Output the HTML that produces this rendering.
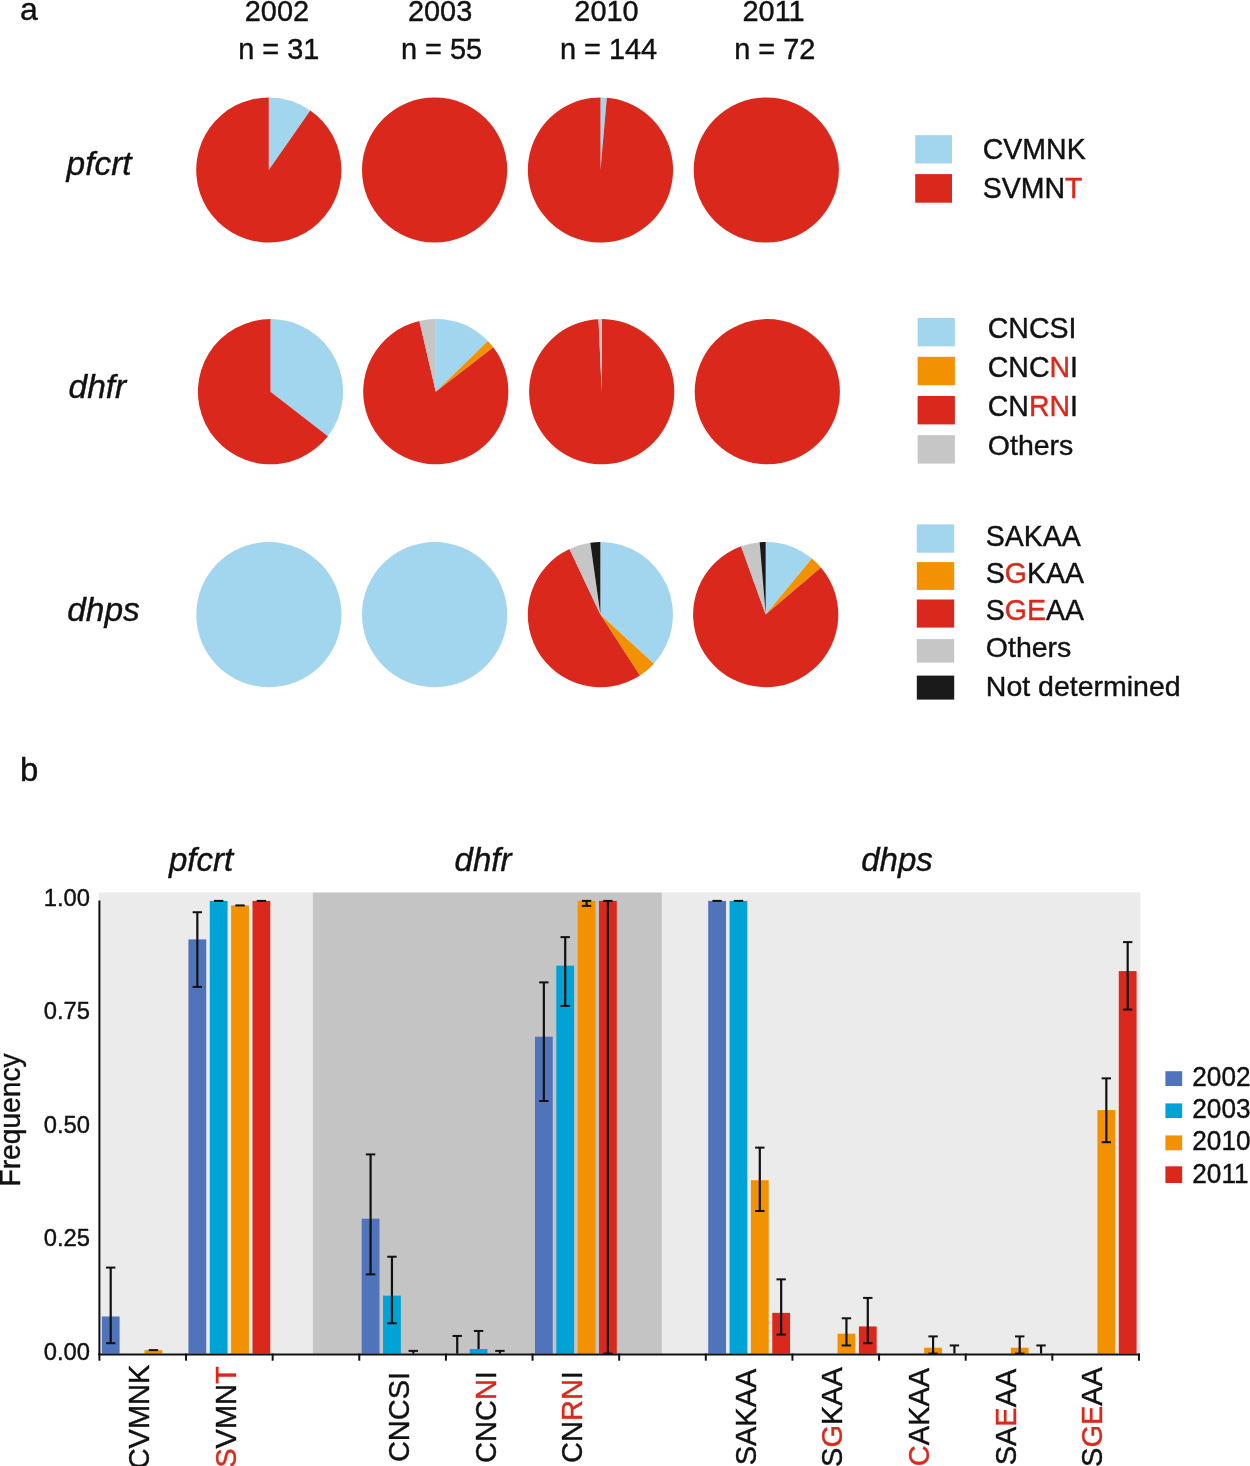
<!DOCTYPE html>
<html><head><meta charset="utf-8"><style>
html,body{margin:0;padding:0;background:#fff;}
body{width:1250px;height:1466px;overflow:hidden;}
svg{display:block;font-family:"Liberation Sans",sans-serif;will-change:transform;color:#111;}
text{stroke:currentColor;stroke-width:0.4px;} tspan{stroke:currentColor;}
</style></head><body>
<svg width="1250" height="1466" viewBox="0 0 1250 1466" font-family="Liberation Sans, sans-serif">
<path d="M268.80,170.00 L268.80,97.40 A72.6,72.6 0 0 1 310.27,110.41 Z" fill="#a2d5ee"/>
<path d="M268.80,170.00 L310.27,110.41 A72.6,72.6 0 1 1 268.80,97.40 Z" fill="#da291c"/>
<circle cx="434.6" cy="170.0" r="72.6" fill="#da291c"/>
<path d="M600.50,170.00 L600.50,97.40 A72.6,72.6 0 0 1 606.83,97.68 Z" fill="#a2d5ee"/>
<path d="M600.50,170.00 L606.83,97.68 A72.6,72.6 0 1 1 600.50,97.40 Z" fill="#da291c"/>
<circle cx="766.3" cy="170.0" r="72.6" fill="#da291c"/>
<path d="M270.50,391.70 L270.50,319.10 A72.6,72.6 0 0 1 327.91,436.14 Z" fill="#a2d5ee"/>
<path d="M270.50,391.70 L327.91,436.14 A72.6,72.6 0 1 1 270.50,319.10 Z" fill="#da291c"/>
<path d="M435.80,391.70 L435.80,319.10 A72.6,72.6 0 0 1 487.86,341.10 Z" fill="#a2d5ee"/>
<path d="M435.80,391.70 L487.86,341.10 A72.6,72.6 0 0 1 493.29,347.37 Z" fill="#f39200"/>
<path d="M435.80,391.70 L493.29,347.37 A72.6,72.6 0 1 1 419.36,320.99 Z" fill="#da291c"/>
<path d="M435.80,391.70 L419.36,320.99 A72.6,72.6 0 0 1 435.80,319.10 Z" fill="#c6c6c6"/>
<path d="M601.70,391.70 L601.70,319.10 A72.6,72.6 0 1 1 598.53,319.17 Z" fill="#da291c"/>
<path d="M601.70,391.70 L598.53,319.17 A72.6,72.6 0 0 1 601.70,319.10 Z" fill="#c6c6c6"/>
<circle cx="767.3" cy="391.7" r="72.6" fill="#da291c"/>
<circle cx="268.9" cy="614.6" r="72.6" fill="#a2d5ee"/>
<circle cx="434.6" cy="614.6" r="72.6" fill="#a2d5ee"/>
<path d="M600.40,614.60 L600.40,542.00 A72.6,72.6 0 0 1 653.93,663.65 Z" fill="#a2d5ee"/>
<path d="M600.40,614.60 L653.93,663.65 A72.6,72.6 0 0 1 639.94,675.49 Z" fill="#f39200"/>
<path d="M600.40,614.60 L639.94,675.49 A72.6,72.6 0 1 1 569.49,548.91 Z" fill="#da291c"/>
<path d="M600.40,614.60 L569.49,548.91 A72.6,72.6 0 0 1 590.30,542.71 Z" fill="#c6c6c6"/>
<path d="M600.40,614.60 L590.30,542.71 A72.6,72.6 0 0 1 600.40,542.00 Z" fill="#1a1a1a"/>
<path d="M765.70,614.60 L765.70,542.00 A72.6,72.6 0 0 1 811.88,558.58 Z" fill="#a2d5ee"/>
<path d="M765.70,614.60 L811.88,558.58 A72.6,72.6 0 0 1 820.91,567.45 Z" fill="#f39200"/>
<path d="M765.70,614.60 L820.91,567.45 A72.6,72.6 0 1 1 741.11,546.29 Z" fill="#da291c"/>
<path d="M765.70,614.60 L741.11,546.29 A72.6,72.6 0 0 1 759.62,542.25 Z" fill="#c6c6c6"/>
<path d="M765.70,614.60 L759.62,542.25 A72.6,72.6 0 0 1 765.70,542.00 Z" fill="#1a1a1a"/>
<text x="19.9" y="20.3" font-size="32" text-anchor="start" fill="#111111" >a</text>
<text x="19.9" y="780.7" font-size="33" text-anchor="start" fill="#111111" >b</text>
<text x="0" y="0" font-size="28.9" text-anchor="middle" fill="#111111" transform="translate(276.90,20.70) scale(1,1.03)" >2002</text>
<text x="0" y="0" font-size="28.9" text-anchor="middle" fill="#111111" transform="translate(278.80,59.00) scale(1,1.03)" >n = 31</text>
<text x="0" y="0" font-size="28.9" text-anchor="middle" fill="#111111" transform="translate(440.10,20.70) scale(1,1.03)" >2003</text>
<text x="0" y="0" font-size="28.9" text-anchor="middle" fill="#111111" transform="translate(441.50,59.00) scale(1,1.03)" >n = 55</text>
<text x="0" y="0" font-size="28.9" text-anchor="middle" fill="#111111" transform="translate(606.50,20.70) scale(1,1.03)" >2010</text>
<text x="0" y="0" font-size="28.9" text-anchor="middle" fill="#111111" transform="translate(608.50,59.00) scale(1,1.03)" >n = 144</text>
<text x="0" y="0" font-size="28.9" text-anchor="middle" fill="#111111" transform="translate(773.60,20.70) scale(1,1.03)" >2011</text>
<text x="0" y="0" font-size="28.9" text-anchor="middle" fill="#111111" transform="translate(774.80,59.00) scale(1,1.03)" >n = 72</text>
<text x="66.5" y="174.6" font-size="33.5" text-anchor="start" font-style="italic" fill="#111111" >pfcrt</text>
<text x="68.5" y="398.4" font-size="33.5" text-anchor="start" font-style="italic" fill="#111111" >dhfr</text>
<text x="67.2" y="621.4" font-size="33.5" text-anchor="start" font-style="italic" fill="#111111" >dhps</text>
<rect x="915.2" y="135.2" width="36.8" height="28.3" fill="#a2d5ee"/>
<rect x="915.2" y="174.1" width="36.8" height="28.6" fill="#da291c"/>
<text x="0" y="0" font-size="28.5" text-anchor="start" fill="#111111" transform="translate(982.80,158.70) scale(1,1.04)" >CVMNK</text>
<text x="0" y="0" font-size="28.5" text-anchor="start" fill="#111111" transform="translate(982.80,198.00) scale(1,1.04)" >SVMN<tspan fill="#da291c" style="color:#da291c">T</tspan></text>
<rect x="917.6" y="317.9" width="37.3" height="28.4" fill="#a2d5ee"/>
<rect x="917.6" y="356.8" width="37.3" height="28.4" fill="#f39200"/>
<rect x="917.6" y="396" width="37.3" height="28.4" fill="#da291c"/>
<rect x="917.6" y="435.2" width="37.3" height="28.4" fill="#c6c6c6"/>
<text x="0" y="0" font-size="28.5" text-anchor="start" fill="#111111" transform="translate(987.80,338.40) scale(1,1.04)" >CNCSI</text>
<text x="0" y="0" font-size="28.5" text-anchor="start" fill="#111111" transform="translate(987.80,377.30) scale(1,1.04)" >CNC<tspan fill="#da291c" style="color:#da291c">N</tspan>I</text>
<text x="0" y="0" font-size="28.5" text-anchor="start" fill="#111111" transform="translate(987.80,416.30) scale(1,1.04)" >CN<tspan fill="#da291c" style="color:#da291c">RN</tspan>I</text>
<text x="987.8" y="455.2" font-size="28.5" text-anchor="start" fill="#111111" >Others</text>
<rect x="916.8" y="524.4" width="37.4" height="28.3" fill="#a2d5ee"/>
<rect x="916.8" y="562.1" width="37.4" height="27.8" fill="#f39200"/>
<rect x="916.8" y="599.5" width="37.4" height="28.1" fill="#da291c"/>
<rect x="916.8" y="639.1" width="37.4" height="23.5" fill="#c6c6c6"/>
<rect x="916.8" y="675.6" width="37.4" height="24" fill="#1a1a1a"/>
<text x="0" y="0" font-size="28.5" text-anchor="start" fill="#111111" transform="translate(985.80,545.50) scale(1,1.04)" >SAKAA</text>
<text x="0" y="0" font-size="28.5" text-anchor="start" fill="#111111" transform="translate(985.80,582.50) scale(1,1.04)" >S<tspan fill="#da291c" style="color:#da291c">G</tspan>KAA</text>
<text x="0" y="0" font-size="28.5" text-anchor="start" fill="#111111" transform="translate(985.80,620.40) scale(1,1.04)" >S<tspan fill="#da291c" style="color:#da291c">GE</tspan>AA</text>
<text x="985.8" y="656.9" font-size="28.5" text-anchor="start" fill="#111111" >Others</text>
<text x="985.8" y="695.5" font-size="28.5" text-anchor="start" fill="#111111" >Not determined</text>
<rect x="98.7" y="892.5" width="214.1" height="461.0999999999999" fill="#ebebeb"/>
<rect x="312.8" y="892.5" width="349.1" height="461.0999999999999" fill="#c4c4c4"/>
<rect x="661.9" y="892.5" width="478.4" height="461.0999999999999" fill="#ebebeb"/>
<rect x="101.8" y="1316.48" width="17.8" height="37.12" fill="#4f74bb"/>
<rect x="144.5" y="1350.11" width="17.8" height="3.49" fill="#f39200"/>
<rect x="188.43" y="939.38" width="17.8" height="414.22" fill="#4f74bb"/>
<rect x="209.78" y="900.9" width="17.8" height="452.7" fill="#00a3d6"/>
<rect x="231.13" y="905.43" width="17.8" height="448.17" fill="#f39200"/>
<rect x="252.48" y="900.9" width="17.8" height="452.7" fill="#da291c"/>
<rect x="361.69" y="1218.7" width="17.8" height="134.9" fill="#4f74bb"/>
<rect x="383.04" y="1295.65" width="17.8" height="57.95" fill="#00a3d6"/>
<rect x="469.67" y="1349.07" width="17.8" height="4.53" fill="#00a3d6"/>
<rect x="534.95" y="1036.71" width="17.8" height="316.89" fill="#4f74bb"/>
<rect x="556.3" y="965.64" width="17.8" height="387.96" fill="#00a3d6"/>
<rect x="577.65" y="900.9" width="17.8" height="452.7" fill="#f39200"/>
<rect x="599.0" y="900.9" width="17.8" height="452.7" fill="#da291c"/>
<rect x="708.21" y="900.9" width="17.8" height="452.7" fill="#4f74bb"/>
<rect x="729.56" y="900.9" width="17.8" height="452.7" fill="#00a3d6"/>
<rect x="750.91" y="1180.22" width="17.8" height="173.38" fill="#f39200"/>
<rect x="772.26" y="1312.86" width="17.8" height="40.74" fill="#da291c"/>
<rect x="837.54" y="1333.68" width="17.8" height="19.92" fill="#f39200"/>
<rect x="858.89" y="1326.44" width="17.8" height="27.16" fill="#da291c"/>
<rect x="924.17" y="1347.71" width="17.8" height="5.89" fill="#f39200"/>
<rect x="1010.8" y="1347.71" width="17.8" height="5.89" fill="#f39200"/>
<rect x="1097.43" y="1110.05" width="17.8" height="243.55" fill="#f39200"/>
<rect x="1118.78" y="971.07" width="17.8" height="382.53" fill="#da291c"/>
<line x1="110.70" y1="1267.59" x2="110.70" y2="1343.19" stroke="#111" stroke-width="2.2"/>
<line x1="106.00" y1="1267.59" x2="115.40" y2="1267.59" stroke="#111" stroke-width="2"/>
<line x1="106.00" y1="1343.19" x2="115.40" y2="1343.19" stroke="#111" stroke-width="2"/>
<line x1="153.40" y1="1350.11" x2="153.40" y2="1350.11" stroke="#111" stroke-width="2.2"/>
<line x1="148.70" y1="1350.11" x2="158.10" y2="1350.11" stroke="#111" stroke-width="2"/>
<line x1="197.33" y1="912.22" x2="197.33" y2="986.91" stroke="#111" stroke-width="2.2"/>
<line x1="192.63" y1="912.22" x2="202.03" y2="912.22" stroke="#111" stroke-width="2"/>
<line x1="192.63" y1="986.91" x2="202.03" y2="986.91" stroke="#111" stroke-width="2"/>
<line x1="218.68" y1="900.90" x2="218.68" y2="900.90" stroke="#111" stroke-width="2.2"/>
<line x1="213.98" y1="900.90" x2="223.38" y2="900.90" stroke="#111" stroke-width="2"/>
<line x1="240.03" y1="905.43" x2="240.03" y2="905.43" stroke="#111" stroke-width="2.2"/>
<line x1="235.33" y1="905.43" x2="244.73" y2="905.43" stroke="#111" stroke-width="2"/>
<line x1="261.38" y1="900.90" x2="261.38" y2="900.90" stroke="#111" stroke-width="2.2"/>
<line x1="256.68" y1="900.90" x2="266.08" y2="900.90" stroke="#111" stroke-width="2"/>
<line x1="370.59" y1="1154.41" x2="370.59" y2="1274.38" stroke="#111" stroke-width="2.2"/>
<line x1="365.89" y1="1154.41" x2="375.29" y2="1154.41" stroke="#111" stroke-width="2"/>
<line x1="365.89" y1="1274.38" x2="375.29" y2="1274.38" stroke="#111" stroke-width="2"/>
<line x1="391.94" y1="1256.72" x2="391.94" y2="1323.27" stroke="#111" stroke-width="2.2"/>
<line x1="387.24" y1="1256.72" x2="396.64" y2="1256.72" stroke="#111" stroke-width="2"/>
<line x1="387.24" y1="1323.27" x2="396.64" y2="1323.27" stroke="#111" stroke-width="2"/>
<line x1="413.29" y1="1350.88" x2="413.29" y2="1353.60" stroke="#111" stroke-width="2.2"/>
<line x1="408.59" y1="1350.88" x2="417.99" y2="1350.88" stroke="#111" stroke-width="2"/>
<line x1="457.22" y1="1335.94" x2="457.22" y2="1353.60" stroke="#111" stroke-width="2.2"/>
<line x1="452.52" y1="1335.94" x2="461.92" y2="1335.94" stroke="#111" stroke-width="2"/>
<line x1="478.57" y1="1330.96" x2="478.57" y2="1349.07" stroke="#111" stroke-width="2.2"/>
<line x1="473.87" y1="1330.96" x2="483.27" y2="1330.96" stroke="#111" stroke-width="2"/>
<line x1="499.92" y1="1350.88" x2="499.92" y2="1353.60" stroke="#111" stroke-width="2.2"/>
<line x1="495.22" y1="1350.88" x2="504.62" y2="1350.88" stroke="#111" stroke-width="2"/>
<line x1="543.85" y1="982.39" x2="543.85" y2="1100.99" stroke="#111" stroke-width="2.2"/>
<line x1="539.15" y1="982.39" x2="548.55" y2="982.39" stroke="#111" stroke-width="2"/>
<line x1="539.15" y1="1100.99" x2="548.55" y2="1100.99" stroke="#111" stroke-width="2"/>
<line x1="565.20" y1="937.12" x2="565.20" y2="1005.93" stroke="#111" stroke-width="2.2"/>
<line x1="560.50" y1="937.12" x2="569.90" y2="937.12" stroke="#111" stroke-width="2"/>
<line x1="560.50" y1="1005.93" x2="569.90" y2="1005.93" stroke="#111" stroke-width="2"/>
<line x1="586.55" y1="900.90" x2="586.55" y2="905.88" stroke="#111" stroke-width="2.2"/>
<line x1="581.85" y1="900.90" x2="591.25" y2="900.90" stroke="#111" stroke-width="2"/>
<line x1="581.85" y1="905.88" x2="591.25" y2="905.88" stroke="#111" stroke-width="2"/>
<line x1="607.90" y1="900.90" x2="607.90" y2="1353.60" stroke="#111" stroke-width="2.2"/>
<line x1="603.20" y1="900.90" x2="612.60" y2="900.90" stroke="#111" stroke-width="2"/>
<line x1="603.20" y1="1353.60" x2="612.60" y2="1353.60" stroke="#111" stroke-width="2"/>
<line x1="717.11" y1="900.90" x2="717.11" y2="900.90" stroke="#111" stroke-width="2.2"/>
<line x1="712.41" y1="900.90" x2="721.81" y2="900.90" stroke="#111" stroke-width="2"/>
<line x1="738.46" y1="900.90" x2="738.46" y2="900.90" stroke="#111" stroke-width="2.2"/>
<line x1="733.76" y1="900.90" x2="743.16" y2="900.90" stroke="#111" stroke-width="2"/>
<line x1="759.81" y1="1147.62" x2="759.81" y2="1211.00" stroke="#111" stroke-width="2.2"/>
<line x1="755.11" y1="1147.62" x2="764.51" y2="1147.62" stroke="#111" stroke-width="2"/>
<line x1="755.11" y1="1211.00" x2="764.51" y2="1211.00" stroke="#111" stroke-width="2"/>
<line x1="781.16" y1="1279.36" x2="781.16" y2="1334.59" stroke="#111" stroke-width="2.2"/>
<line x1="776.46" y1="1279.36" x2="785.86" y2="1279.36" stroke="#111" stroke-width="2"/>
<line x1="776.46" y1="1334.59" x2="785.86" y2="1334.59" stroke="#111" stroke-width="2"/>
<line x1="846.44" y1="1318.29" x2="846.44" y2="1345.45" stroke="#111" stroke-width="2.2"/>
<line x1="841.74" y1="1318.29" x2="851.14" y2="1318.29" stroke="#111" stroke-width="2"/>
<line x1="841.74" y1="1345.45" x2="851.14" y2="1345.45" stroke="#111" stroke-width="2"/>
<line x1="867.79" y1="1297.92" x2="867.79" y2="1343.19" stroke="#111" stroke-width="2.2"/>
<line x1="863.09" y1="1297.92" x2="872.49" y2="1297.92" stroke="#111" stroke-width="2"/>
<line x1="863.09" y1="1343.19" x2="872.49" y2="1343.19" stroke="#111" stroke-width="2"/>
<line x1="933.07" y1="1336.40" x2="933.07" y2="1353.60" stroke="#111" stroke-width="2.2"/>
<line x1="928.37" y1="1336.40" x2="937.77" y2="1336.40" stroke="#111" stroke-width="2"/>
<line x1="928.37" y1="1353.60" x2="937.77" y2="1353.60" stroke="#111" stroke-width="2"/>
<line x1="954.42" y1="1345.45" x2="954.42" y2="1353.60" stroke="#111" stroke-width="2.2"/>
<line x1="949.72" y1="1345.45" x2="959.12" y2="1345.45" stroke="#111" stroke-width="2"/>
<line x1="1019.70" y1="1336.40" x2="1019.70" y2="1353.60" stroke="#111" stroke-width="2.2"/>
<line x1="1015.00" y1="1336.40" x2="1024.40" y2="1336.40" stroke="#111" stroke-width="2"/>
<line x1="1015.00" y1="1353.60" x2="1024.40" y2="1353.60" stroke="#111" stroke-width="2"/>
<line x1="1041.05" y1="1345.45" x2="1041.05" y2="1353.60" stroke="#111" stroke-width="2.2"/>
<line x1="1036.35" y1="1345.45" x2="1045.75" y2="1345.45" stroke="#111" stroke-width="2"/>
<line x1="1106.33" y1="1078.36" x2="1106.33" y2="1142.19" stroke="#111" stroke-width="2.2"/>
<line x1="1101.63" y1="1078.36" x2="1111.03" y2="1078.36" stroke="#111" stroke-width="2"/>
<line x1="1101.63" y1="1142.19" x2="1111.03" y2="1142.19" stroke="#111" stroke-width="2"/>
<line x1="1127.68" y1="942.10" x2="1127.68" y2="1009.55" stroke="#111" stroke-width="2.2"/>
<line x1="1122.98" y1="942.10" x2="1132.38" y2="942.10" stroke="#111" stroke-width="2"/>
<line x1="1122.98" y1="1009.55" x2="1132.38" y2="1009.55" stroke="#111" stroke-width="2"/>
<line x1="99.4" y1="900.4" x2="99.4" y2="1354.6" stroke="#111" stroke-width="2"/>
<line x1="98.4" y1="1354.6" x2="1140" y2="1354.6" stroke="#111" stroke-width="2"/>
<line x1="99.40" y1="1353.6" x2="99.40" y2="1360.6999999999998" stroke="#111" stroke-width="2"/>
<line x1="186.03" y1="1353.6" x2="186.03" y2="1360.6999999999998" stroke="#111" stroke-width="2"/>
<line x1="272.66" y1="1353.6" x2="272.66" y2="1360.6999999999998" stroke="#111" stroke-width="2"/>
<line x1="359.29" y1="1353.6" x2="359.29" y2="1360.6999999999998" stroke="#111" stroke-width="2"/>
<line x1="445.92" y1="1353.6" x2="445.92" y2="1360.6999999999998" stroke="#111" stroke-width="2"/>
<line x1="532.55" y1="1353.6" x2="532.55" y2="1360.6999999999998" stroke="#111" stroke-width="2"/>
<line x1="619.18" y1="1353.6" x2="619.18" y2="1360.6999999999998" stroke="#111" stroke-width="2"/>
<line x1="705.81" y1="1353.6" x2="705.81" y2="1360.6999999999998" stroke="#111" stroke-width="2"/>
<line x1="792.44" y1="1353.6" x2="792.44" y2="1360.6999999999998" stroke="#111" stroke-width="2"/>
<line x1="879.07" y1="1353.6" x2="879.07" y2="1360.6999999999998" stroke="#111" stroke-width="2"/>
<line x1="965.70" y1="1353.6" x2="965.70" y2="1360.6999999999998" stroke="#111" stroke-width="2"/>
<line x1="1052.33" y1="1353.6" x2="1052.33" y2="1360.6999999999998" stroke="#111" stroke-width="2"/>
<line x1="1138.96" y1="1353.6" x2="1138.96" y2="1360.6999999999998" stroke="#111" stroke-width="2"/>
<text x="0" y="0" font-size="23.8" text-anchor="end" fill="#111111" transform="translate(90.10,905.80) scale(1,1.035)" >1.00</text>
<text x="0" y="0" font-size="23.8" text-anchor="end" fill="#111111" transform="translate(90.10,1019.30) scale(1,1.035)" >0.75</text>
<text x="0" y="0" font-size="23.8" text-anchor="end" fill="#111111" transform="translate(90.10,1132.80) scale(1,1.035)" >0.50</text>
<text x="0" y="0" font-size="23.8" text-anchor="end" fill="#111111" transform="translate(90.10,1246.20) scale(1,1.035)" >0.25</text>
<text x="0" y="0" font-size="23.8" text-anchor="end" fill="#111111" transform="translate(90.10,1359.80) scale(1,1.035)" >0.00</text>
<text x="0" y="0" font-size="28.2" text-anchor="middle" fill="#111111" transform="translate(20.2,1120) rotate(-90) scale(1,1.045)">Frequency</text>
<text x="201" y="871.4" font-size="33" text-anchor="middle" font-style="italic" fill="#111111" >pfcrt</text>
<text x="483" y="871.4" font-size="33" text-anchor="middle" font-style="italic" fill="#111111" >dhfr</text>
<text x="897" y="871.4" font-size="33" text-anchor="middle" font-style="italic" fill="#111111" >dhps</text>
<text x="0" y="0" font-size="29" text-anchor="middle" fill="#111111" transform="translate(149.31,1417) rotate(-90) scale(1,1.04)">CVMNK</text>
<text x="0" y="0" font-size="29" text-anchor="middle" fill="#111111" transform="translate(235.94,1417) rotate(-90) scale(1,1.04)"><tspan fill="#da291c" style="color:#da291c">S</tspan>VMN<tspan fill="#da291c" style="color:#da291c">T</tspan></text>
<text x="0" y="0" font-size="29" text-anchor="middle" fill="#111111" transform="translate(409.20,1417) rotate(-90) scale(1,1.04)">CNCSI</text>
<text x="0" y="0" font-size="29" text-anchor="middle" fill="#111111" transform="translate(495.83,1417) rotate(-90) scale(1,1.04)">CNC<tspan fill="#da291c" style="color:#da291c">N</tspan>I</text>
<text x="0" y="0" font-size="29" text-anchor="middle" fill="#111111" transform="translate(582.47,1417) rotate(-90) scale(1,1.04)">CN<tspan fill="#da291c" style="color:#da291c">RN</tspan>I</text>
<text x="0" y="0" font-size="29" text-anchor="middle" fill="#111111" transform="translate(755.73,1417) rotate(-90) scale(1,1.04)">SAKAA</text>
<text x="0" y="0" font-size="29" text-anchor="middle" fill="#111111" transform="translate(842.35,1417) rotate(-90) scale(1,1.04)">S<tspan fill="#da291c" style="color:#da291c">G</tspan>KAA</text>
<text x="0" y="0" font-size="29" text-anchor="middle" fill="#111111" transform="translate(928.99,1417) rotate(-90) scale(1,1.04)"><tspan fill="#da291c" style="color:#da291c">C</tspan>AKAA</text>
<text x="0" y="0" font-size="29" text-anchor="middle" fill="#111111" transform="translate(1015.61,1417) rotate(-90) scale(1,1.04)">SA<tspan fill="#da291c" style="color:#da291c">E</tspan>AA</text>
<text x="0" y="0" font-size="29" text-anchor="middle" fill="#111111" transform="translate(1102.24,1417) rotate(-90) scale(1,1.04)">S<tspan fill="#da291c" style="color:#da291c">GE</tspan>AA</text>
<rect x="1165.4" y="1071.2" width="16.8" height="14.8" fill="#4f74bb"/>
<text x="0" y="0" font-size="26.2" text-anchor="start" fill="#111111" transform="translate(1192.30,1085.80) scale(1,1.03)" >2002</text>
<rect x="1165.4" y="1103.4" width="16.8" height="14.6" fill="#00a3d6"/>
<text x="0" y="0" font-size="26.2" text-anchor="start" fill="#111111" transform="translate(1192.30,1117.70) scale(1,1.03)" >2003</text>
<rect x="1165.4" y="1135.4" width="16.8" height="14.9" fill="#f39200"/>
<text x="0" y="0" font-size="26.2" text-anchor="start" fill="#111111" transform="translate(1192.30,1150.30) scale(1,1.03)" >2010</text>
<rect x="1165.4" y="1166.3" width="16.8" height="16.7" fill="#da291c"/>
<text x="0" y="0" font-size="26.2" text-anchor="start" fill="#111111" transform="translate(1192.30,1182.80) scale(1,1.03)" >2011</text>
</svg>
</body></html>
